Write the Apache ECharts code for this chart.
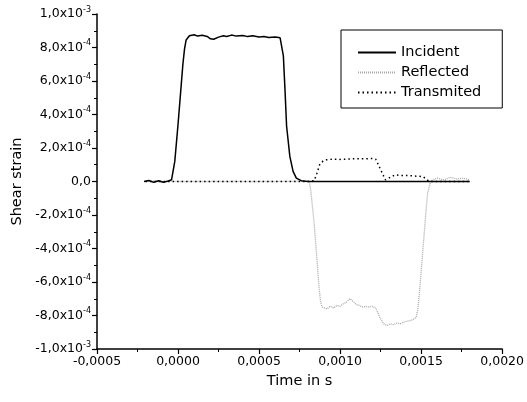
<!DOCTYPE html>
<html>
<head>
<meta charset="utf-8">
<script src="https://cdn.jsdelivr.net/npm/echarts@6/dist/echarts.min.js"></script>
<style>
  html, body { margin: 0; padding: 0; background: #fff; }
  #chart { width: 527px; height: 402px; }
</style>
</head>
<body>
<div id="chart"></div>
<script>
// strain values are in units of 1e-4, time in s
const incidentT = [-0.00021, -0.00018, -0.00015, -0.00012, -0.00009, -0.00006, -0.00004, -0.00002, 0.0, 0.00002, 0.00003, 0.00004, 0.00005, 0.00007, 0.0001, 0.00012, 0.00015, 0.00018, 0.0002, 0.00022, 0.00025, 0.00028, 0.0003, 0.00033, 0.00036, 0.0004, 0.00043, 0.00046, 0.0005, 0.00053, 0.00056, 0.0006, 0.00063, 0.00065, 0.00066, 0.00067, 0.00069, 0.00071, 0.00073, 0.00076, 0.0008, 0.0012, 0.0018];
const incidentV = [0.0, 0.06, -0.05, 0.04, -0.05, 0.03, 0.1, 1.2, 3.4, 5.8, 7.0, 7.9, 8.45, 8.7, 8.76, 8.68, 8.73, 8.66, 8.52, 8.49, 8.62, 8.7, 8.66, 8.74, 8.68, 8.72, 8.65, 8.7, 8.63, 8.66, 8.6, 8.62, 8.58, 7.5, 5.5, 3.3, 1.5, 0.6, 0.2, 0.05, 0.0, 0.0, 0.0];

const reflectedT = [-0.0002, -0.00015, -0.0001, -0.00005, 0.0, 0.0002, 0.0004, 0.0006, 0.00075, 0.00081, 0.00082, 0.00084, 0.00086, 0.00087, 0.00088, 0.00089, 0.0009, 0.00092, 0.00094, 0.00096, 0.00098, 0.001, 0.00102, 0.00104, 0.00106, 0.00108, 0.0011, 0.00112, 0.00114, 0.00116, 0.00118, 0.0012, 0.00122, 0.00123, 0.00125, 0.00127, 0.00129, 0.00131, 0.00133, 0.00135, 0.00137, 0.00139, 0.00141, 0.00143, 0.00145, 0.00147, 0.00148, 0.00149, 0.0015, 0.00151, 0.00152, 0.00153, 0.00154, 0.00156, 0.0016, 0.00164, 0.00168, 0.00172, 0.00176, 0.0018];
const reflectedV = [0.0, 0.03, -0.02, 0.02, 0.0, 0.0, 0.0, 0.0, 0.02, 0.0, -0.6, -2.5, -5.0, -6.3, -7.2, -7.5, -7.45, -7.6, -7.45, -7.55, -7.4, -7.45, -7.3, -7.2, -7.0, -7.15, -7.35, -7.4, -7.5, -7.45, -7.5, -7.45, -7.55, -7.6, -8.2, -8.5, -8.6, -8.5, -8.55, -8.45, -8.5, -8.4, -8.35, -8.3, -8.25, -8.1, -7.6, -6.6, -5.4, -4.2, -3.0, -1.8, -0.7, 0.05, 0.2, 0.1, 0.25, 0.15, 0.2, 0.1];

const transmittedT = [-0.0002, 0.0, 0.0002, 0.0004, 0.0006, 0.0008, 0.00084, 0.000856, 0.000874, 0.000895, 0.000917, 0.00095, 0.001, 0.00105, 0.0011, 0.00115, 0.0012, 0.00122, 0.001238, 0.001262, 0.00128, 0.0013, 0.00134, 0.00138, 0.00142, 0.00147, 0.00151, 0.00155, 0.0016, 0.0018];
const transmittedV = [0.0, 0.0, 0.0, 0.0, 0.0, 0.0, 0.05, 0.46, 1.0, 1.22, 1.3, 1.33, 1.32, 1.34, 1.36, 1.35, 1.37, 1.33, 0.96, 0.46, 0.1, 0.2, 0.4, 0.36, 0.35, 0.32, 0.3, 0.0, 0.0, 0.0];

const seriesNames = ['Incident', 'Reflected', 'Transmited'];
const xTickLabels = ['-0,0005', '0,0000', '0,0005', '0,0010', '0,0015', '0,0020'];
const yTickMant = ['-1,0x10', '-8,0x10', '-6,0x10', '-4,0x10', '-2,0x10', '0,0', '2,0x10', '4,0x10', '6,0x10', '8,0x10', '1,0x10'];
const yTickExp = ['-3', '-4', '-4', '-4', '-4', '', '-4', '-4', '-4', '-4', '-3'];

function pairs(t, v) {
  return t.map((x, i) => [x, v[i]]);
}

const font = 'DejaVu Sans, Liberation Sans, sans-serif';
const chart = echarts.init(document.getElementById('chart'));

chart.setOption({
  animation: false,
  backgroundColor: '#fff',
  textStyle: { fontFamily: font, color: '#000' },
  grid: { left: 97, right: 18, top: 14, bottom: 53 },
  legend: {
    orient: 'vertical',
    left: 341,
    top: 30,
    padding: [15, 21, 8, 16],
    itemGap: 5,
    itemWidth: 38,
    itemHeight: 15,
    borderColor: '#000',
    borderWidth: 1,
    itemStyle: { opacity: 0 },
    textStyle: { fontFamily: font, fontSize: 14.5, color: '#000' },
    data: seriesNames
  },
  xAxis: {
    type: 'value',
    min: -0.0005,
    max: 0.002,
    interval: 0.0005,
    name: 'Time in s',
    nameLocation: 'middle',
    nameGap: 25,
    nameTextStyle: { fontFamily: font, fontSize: 14.5, color: '#000' },
    splitLine: { show: false },
    axisLine: { onZero: false, lineStyle: { color: '#000', width: 1.5 } },
    axisTick: { inside: false, length: 5, lineStyle: { color: '#000', width: 1.2 } },
    minorTick: { show: true, splitNumber: 2, length: 3, lineStyle: { color: '#000' } },
    axisLabel: {
      fontSize: 12.5, color: '#000', margin: 6,
      formatter: v => xTickLabels[Math.round((v + 0.0005) / 0.0005)]
    }
  },
  yAxis: {
    type: 'value',
    min: -10,
    max: 10,
    interval: 2,
    name: 'Shear strain',
    nameLocation: 'middle',
    nameGap: 72,
    nameTextStyle: { fontFamily: font, fontSize: 14.5, color: '#000' },
    splitLine: { show: false },
    axisLine: { show: true, onZero: false, lineStyle: { color: '#000', width: 1.5 } },
    axisTick: { show: true, inside: false, length: 5, lineStyle: { color: '#000', width: 1.2 } },
    minorTick: { show: true, splitNumber: 2, length: 3, lineStyle: { color: '#000' } },
    axisLabel: {
      color: '#000', margin: 6,
      formatter: v => {
        const i = Math.round((v + 10) / 2);
        if (!yTickExp[i]) return '{m|' + yTickMant[i] + '}';
        return '{m|' + yTickMant[i] + '}{e|' + yTickExp[i] + '}';
      },
      rich: {
        m: { fontSize: 12.5, fontFamily: font, color: '#000', lineHeight: 13, verticalAlign: 'bottom' },
        e: { fontSize: 8, fontFamily: font, color: '#000', lineHeight: 8, verticalAlign: 'bottom', padding: [0, 0, 7, 0] }
      }
    }
  },
  series: [
    {
      name: seriesNames[0],
      type: 'line',
      showSymbol: false,
      symbol: 'none',
      z: 3,
      data: pairs(incidentT, incidentV),
      lineStyle: { color: '#000', width: 1.5 },
      itemStyle: { color: '#000' }
    },
    {
      name: seriesNames[1],
      type: 'line',
      showSymbol: false,
      symbol: 'none',
      z: 2,
      data: pairs(reflectedT, reflectedV),
      lineStyle: { color: '#a8a8a8', width: 1.3, type: [1, 1] },
      itemStyle: { color: '#a8a8a8' }
    },
    {
      name: seriesNames[2],
      type: 'line',
      showSymbol: false,
      symbol: 'none',
      z: 4,
      data: pairs(transmittedT, transmittedV),
      lineStyle: { color: '#000', width: 1.5, type: [1.5, 3] },
      itemStyle: { color: '#000' }
    }
  ]
});
</script>
</body>
</html>
